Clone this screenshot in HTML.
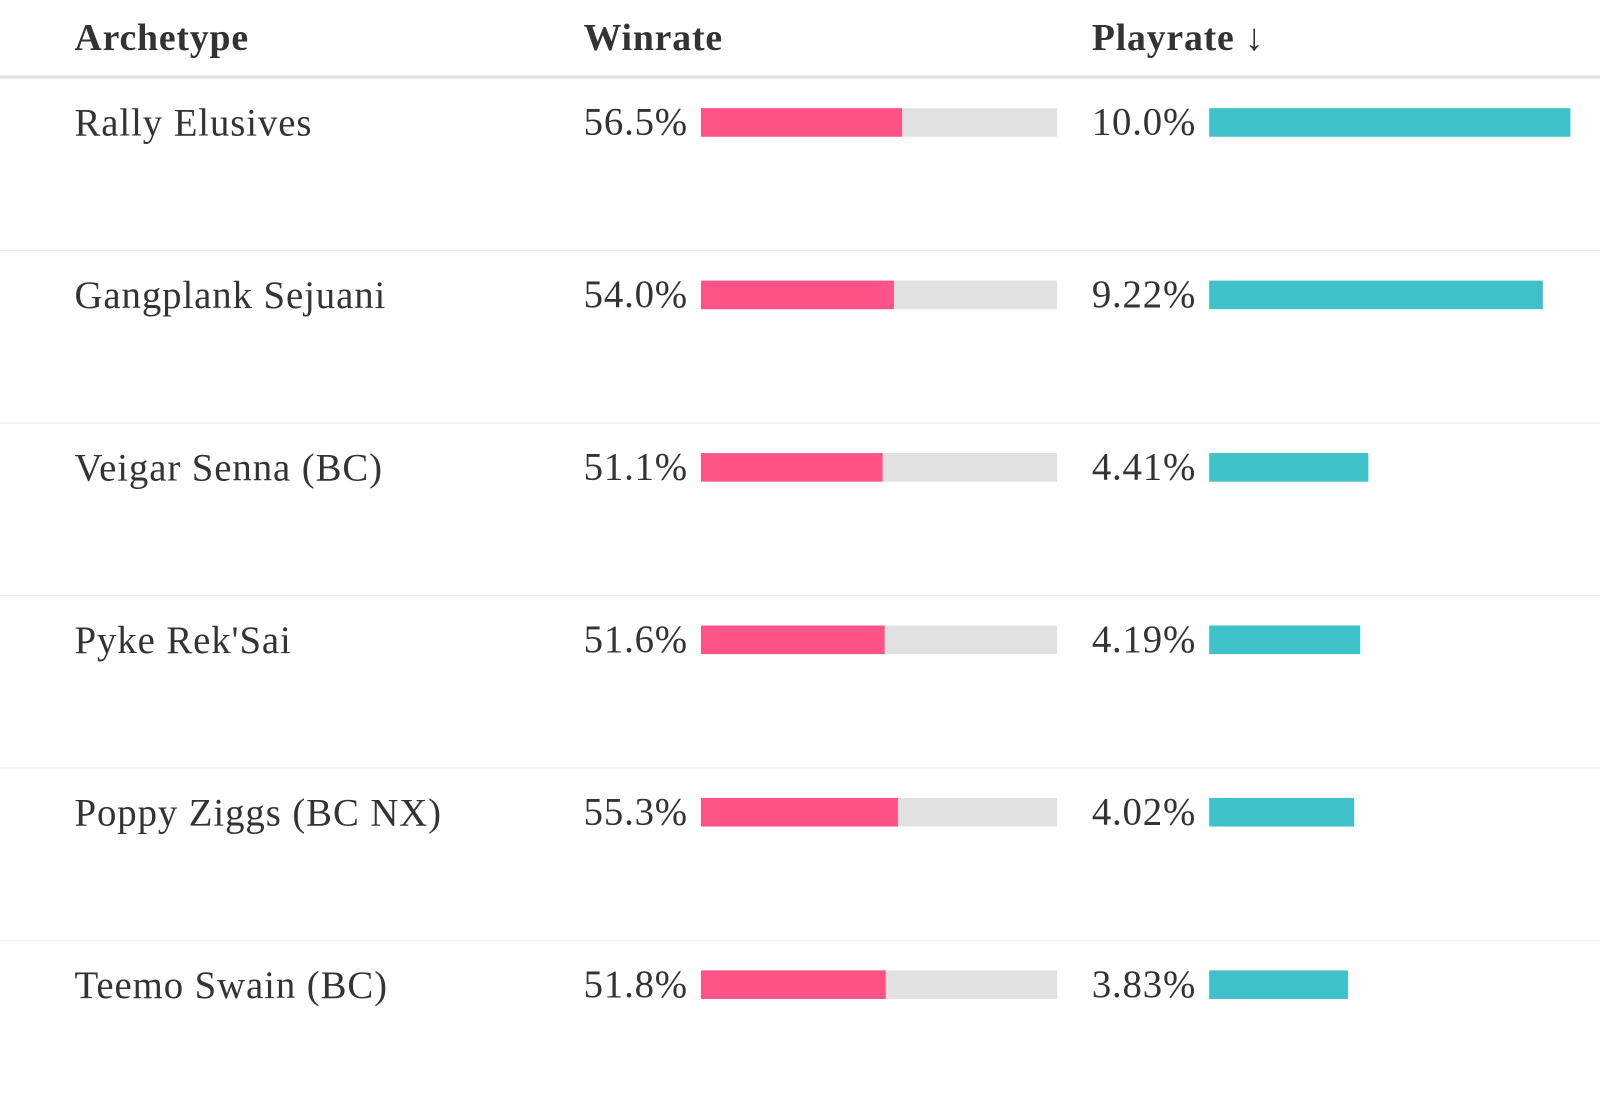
<!DOCTYPE html>
<html><head><meta charset="utf-8">
<style>
html,body{margin:0;padding:0;background:#fff;}
body{width:1600px;height:1108px;overflow:hidden;position:relative;font-family:"Liberation Serif",serif;color:#333;}
#wrap{position:absolute;left:0;top:0;width:1568px;height:1086px;transform:scale(1.0204);transform-origin:0 0;}
.hdr{position:absolute;top:0;left:0;width:1568px;height:74px;border-bottom:3px solid #e2e2e2;}
.h{position:absolute;top:18px;font-size:37px;font-weight:bold;line-height:40px;color:#333;letter-spacing:0.8px;}
.row{position:absolute;left:0;width:1568px;height:168px;border-bottom:1px solid #ececec;}
.row.last{border-bottom:none;}
.name{position:absolute;left:73px;top:26px;font-size:38px;line-height:36px;color:#333;letter-spacing:0.9px;}
.cell{position:absolute;top:29px;height:28px;display:flex;align-items:center;}
.val{font-size:38px;line-height:36px;margin-right:13px;white-space:nowrap;color:#333;letter-spacing:0.8px;}
.track{position:relative;height:28px;background:#e1e1e1;flex:1;}
.fill{position:absolute;left:0;top:0;height:28px;background:#ff5286;}
.pbar{height:28px;background:#3fc1c9;}
</style></head><body>
<div id="wrap">
<div class="hdr">
  <div class="h" style="left:73px">Archetype</div>
  <div class="h" style="left:572px">Winrate</div>
  <div class="h" style="left:1070px">Playrate ↓</div>
</div>
<div id="rows"></div>
</div>
<script>
const archetypes = ["Rally Elusives","Gangplank Sejuani","Veigar Senna (BC)","Pyke Rek'Sai","Poppy Ziggs (BC NX)","Teemo Swain (BC)"];
const winrates = [56.5,54.0,51.1,51.6,55.3,51.8];
const winLabels = ["56.5%","54.0%","51.1%","51.6%","55.3%","51.8%"];
const playrates = [10.0,9.22,4.41,4.19,4.02,3.83];
const playLabels = ["10.0%","9.22%","4.41%","4.19%","4.02%","3.83%"];

const root = document.getElementById('rows');
const maxPlay = Math.max(...playrates);
const playScale = v => v / maxPlay * 354;
archetypes.forEach((a,i)=>{
  const r = document.createElement('div');
  r.className = 'row' + (i === archetypes.length-1 ? ' last' : '');
  r.style.top = (77 + i*169) + 'px';
  
  
  const n = document.createElement('div');
  n.className='name'; n.textContent=a;
  
  
  r.appendChild(n);

  const w = document.createElement('div');
  w.className='cell'; w.style.left='572px'; w.style.width='464px';
  
  
  const wv = document.createElement('span'); wv.className='val'; wv.textContent=winLabels[i];
  
  
  const tr = document.createElement('div'); tr.className='track';
  
  
  const f = document.createElement('div'); f.className='fill'; f.style.width = winrates[i] + '%';
  
  
  tr.appendChild(f); w.appendChild(wv); w.appendChild(tr); r.appendChild(w);

  const p = document.createElement('div');
  p.className='cell'; p.style.left='1070px';
  
  
  const pv = document.createElement('span'); pv.className='val'; pv.textContent=playLabels[i];
  
  
  const pb = document.createElement('div'); pb.className='pbar'; pb.style.width = playScale(playrates[i]) + 'px';
  
  
  p.appendChild(pv); p.appendChild(pb); r.appendChild(p);
  root.appendChild(r);
});
</script>
</body></html>
